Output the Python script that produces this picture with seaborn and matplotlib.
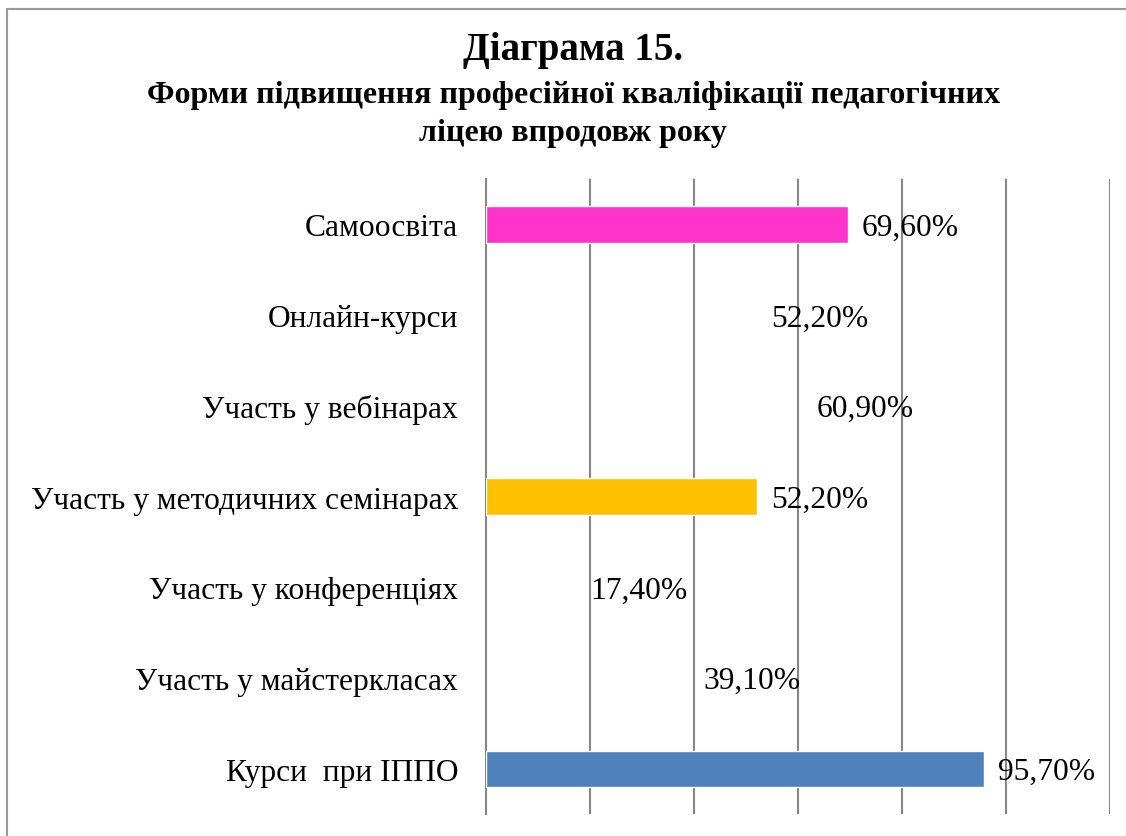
import matplotlib
matplotlib.use("Agg")
import matplotlib.pyplot as plt
import seaborn as sns
import pandas as pd
from matplotlib.patches import Rectangle

# Data (top to bottom as shown)
categories = ["Самоосвіта", "Онлайн-курси", "Участь у вебінарах",
              "Участь у методичних семінарах", "Участь у конференціях",
              "Участь у майстеркласах", "Курси  при ІППО"]
values = [69.6, 52.2, 60.9, 52.2, 17.4, 39.1, 95.7]
labels = ["69,60%", "52,20%", "60,90%", "52,20%", "17,40%", "39,10%", "95,70%"]
# None = bar without fill (invisible in the original)
colors = ["#FF33CC", None, None, "#FFC000", None, None, "#4F81BD"]

df = pd.DataFrame({"cat": categories, "val": values})

sns.set_style("white")
plt.rcParams['font.family'] = ['Liberation Serif', 'DejaVu Serif']
plt.rcParams['text.color'] = 'black'
plt.rcParams['ytick.labelcolor'] = 'black'

fig = plt.figure(figsize=(11.26, 8.37), dpi=100)
ax = fig.add_axes([486 / 1126, 1 - 815 / 837, (1110 - 486) / 1126, (815 - 180) / 837])

palette = [c if c else "#FFFFFF" for c in colors]
sns.barplot(data=df, y="cat", x="val", hue="cat", palette=palette, legend=False,
            orient="h", width=0.4, saturation=1, ax=ax, zorder=3)
for bar, c in zip(ax.patches, colors):
    if c is None:
        bar.set_facecolor("none")
        bar.set_edgecolor("none")

ax.set_xlim(0, 120)
ax.set_ylim(6.5, -0.5)
ax.set_xticks([20, 40, 60, 80, 100, 120])
ax.set_xticklabels([])
ax.tick_params(axis="x", length=0)
ax.xaxis.grid(True, color="#868686", linewidth=1.5, zorder=0)
ax.set_axisbelow(True)
ax.set_xlabel("")
ax.set_ylabel("")

ax.set_yticks(range(len(categories)))
ax.set_yticklabels(categories, fontsize=22.7)
ax.set_yticks([i - 0.5 for i in range(len(categories) + 1)], minor=True)
ax.tick_params(axis="y", which="major", length=0, pad=20)
ax.tick_params(axis="y", which="minor", length=8, width=1.5, color="#868686", direction="out")

for s in ["top", "right", "bottom"]:
    ax.spines[s].set_visible(False)
ax.spines["left"].set_color("#868686")
ax.spines["left"].set_linewidth(1.5)

for i, (v, t) in enumerate(zip(values, labels)):
    ax.annotate(t, xy=(v, i), xytext=(10, -2), textcoords="offset points",
                va="center", ha="left", fontsize=22.7, zorder=4)

fig.text(0.509, 0.940, "Діаграма 15.", ha="center", va="center",
         fontsize=28, fontweight="bold")
fig.text(0.509, 0.886, "Форми підвищення професійної кваліфікації педагогічних",
         ha="center", va="center", fontsize=23, fontweight="bold")
fig.text(0.509, 0.841, "ліцею впродовж року",
         ha="center", va="center", fontsize=23, fontweight="bold")

fig.patches.append(Rectangle((7 / 1126, -0.1), 1.2, 1 - 10 / 837 + 0.1,
                             transform=fig.transFigure, fill=False,
                             edgecolor="#9a9a9a", linewidth=1.5))

fig.savefig("out.png", dpi=100)
